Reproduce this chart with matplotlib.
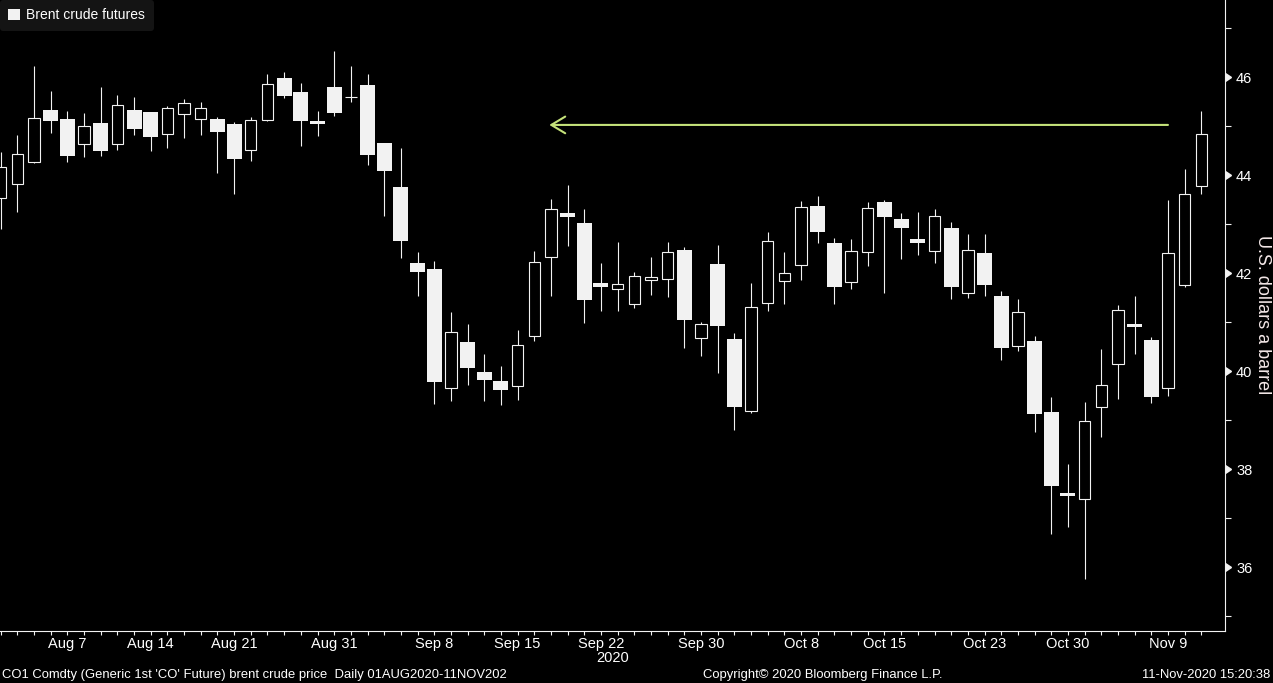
import numpy as np
import pandas as pd
import matplotlib.pyplot as plt
from matplotlib.patches import Rectangle, Patch

# daily brent candles, 3 Aug - 11 Nov 2020
dates = pd.bdate_range('2020-08-03', '2020-11-11')
opens = [43.53, 43.83, 44.28, 45.34, 45.15, 44.65, 45.07, 44.64, 45.34, 45.30,
         44.85, 45.26, 45.16, 45.15, 45.05, 44.51, 45.13, 45.99, 45.70, 45.11,
         45.81, 45.60, 45.85, 44.66, 43.77, 42.21, 42.09, 39.66, 40.60, 39.99,
         39.81, 39.71, 40.73, 42.33, 43.23, 43.03, 41.80, 41.68, 41.37, 41.86,
         41.88, 42.48, 40.68, 42.19, 40.66, 39.20, 41.40, 41.85, 42.17, 43.38,
         42.62, 41.82, 42.43, 43.46, 43.11, 42.70, 42.45, 42.93, 41.60, 42.42,
         41.54, 40.51, 40.62, 39.17, 37.51, 37.39, 39.27, 40.15, 40.97, 40.64,
         39.66, 41.76, 43.78]
highs = [44.48, 44.83, 46.23, 45.72, 45.32, 45.28, 45.81, 45.64, 45.60, 45.30,
         45.42, 45.56, 45.50, 45.19, 45.09, 45.19, 46.07, 46.11, 45.89, 45.32,
         46.54, 46.23, 46.07, 44.66, 44.55, 42.44, 42.26, 41.21, 40.97, 40.36,
         40.11, 40.85, 42.46, 43.52, 43.81, 43.32, 42.21, 42.64, 42.03, 42.34,
         42.64, 42.54, 41.00, 42.58, 40.79, 41.81, 42.85, 42.44, 43.48, 43.58,
         42.72, 42.70, 43.46, 43.50, 43.23, 43.26, 43.32, 43.05, 42.81, 42.81,
         41.64, 41.48, 40.72, 39.48, 38.11, 39.38, 40.46, 41.36, 41.54, 40.70,
         43.50, 44.13, 45.32]
lows = [42.91, 43.26, 44.26, 44.87, 44.28, 44.38, 44.40, 44.51, 44.83, 44.49,
        44.55, 44.77, 44.83, 44.04, 43.61, 44.30, 45.10, 45.57, 44.59, 44.81,
        45.22, 45.49, 44.22, 43.18, 42.32, 41.53, 39.34, 39.40, 39.73, 39.40,
        39.32, 39.42, 40.61, 41.53, 42.55, 40.98, 41.24, 41.24, 41.30, 41.55,
        41.51, 40.47, 40.32, 39.96, 38.81, 39.16, 41.24, 41.38, 41.87, 42.63,
        41.38, 41.69, 42.16, 41.59, 42.30, 42.38, 42.22, 41.47, 41.49, 41.53,
        40.24, 40.42, 38.77, 36.67, 36.83, 35.77, 38.67, 39.44, 40.36, 39.36,
        39.49, 41.73, 43.63]
closes = [44.17, 44.43, 45.17, 45.10, 44.40, 45.00, 44.50, 45.43, 44.95, 44.79,
          45.37, 45.47, 45.37, 44.89, 44.34, 45.13, 45.87, 45.63, 45.10, 45.06,
          45.28, 45.60, 44.42, 44.08, 42.67, 42.02, 39.79, 40.80, 40.06, 39.83,
          39.61, 40.53, 42.23, 43.31, 43.16, 41.45, 41.73, 41.78, 41.94, 41.92,
          42.43, 41.04, 40.96, 40.93, 39.28, 41.32, 42.66, 42.00, 43.35, 42.85,
          41.73, 42.45, 43.33, 43.16, 42.93, 42.63, 43.17, 41.73, 42.47, 41.77,
          40.47, 41.21, 39.12, 37.65, 37.46, 38.98, 39.72, 41.25, 40.94, 39.47,
          42.41, 43.62, 44.85]

label_dates = ['2020-08-07', '2020-08-14', '2020-08-21', '2020-08-31', '2020-09-08',
               '2020-09-15', '2020-09-22', '2020-09-30', '2020-10-08', '2020-10-15',
               '2020-10-23', '2020-10-30', '2020-11-09']
label_text = ['Aug 7', 'Aug 14', 'Aug 21', 'Aug 31', 'Sep 8', 'Sep 15', 'Sep 22',
              'Sep 30', 'Oct 8', 'Oct 15', 'Oct 23', 'Oct 30', 'Nov 9']
y_major = [36, 38, 40, 42, 44, 46]
y_minor = [35, 37, 39, 41, 43, 45, 47]

# arrow drawn on the chart: from Nov 9 back to mid September at ~45
arrow_level = 45.03
arrow_from = '2020-11-09'
arrow_to = '2020-09-17'

plt.rcParams['font.family'] = ['Liberation Sans', 'DejaVu Sans']
white = '#f2f2f2'

fig = plt.figure(figsize=(12.73, 6.83), dpi=100, facecolor='black')
ax = fig.add_axes([0, 52 / 683, 1225 / 1273, 631 / 683])
ax.set_facecolor('black')

x = np.arange(len(dates))
o = np.array(opens)
c = np.array(closes)

# wicks first, bodies on top
ax.vlines(x, lows, highs, color=white, lw=0.8, zorder=2)
for i in x:
    if c[i] >= o[i]:
        # up day: hollow, a bit narrower
        ax.add_patch(Rectangle((i - 0.34, o[i]), 0.68, c[i] - o[i],
                               facecolor='black', edgecolor=white, lw=0.8, zorder=3))
    else:
        h = max(o[i] - c[i], 0.06)
        ax.add_patch(Rectangle((i - 0.45, o[i] - h), 0.9, h,
                               facecolor=white, edgecolor='none', zorder=3))

# green arrow
xa = dates.get_loc(pd.Timestamp(arrow_from))
xb = dates.get_loc(pd.Timestamp(arrow_to)) - 0.1
ax.annotate('', xy=(xb, arrow_level), xytext=(xa, arrow_level),
            arrowprops=dict(arrowstyle='->,head_length=1.0,head_width=0.6',
                            color='#c5e27a', lw=1.5, shrinkA=0, shrinkB=0),
            zorder=4)

ax.set_xlim(-0.04, 73.42)
ax.set_ylim(34.70, 47.58)

for s in ['left', 'top']:
    ax.spines[s].set_visible(False)
for s in ['right', 'bottom']:
    ax.spines[s].set_color(white)
    ax.spines[s].set_linewidth(0.8)

# x axis: a tick for every day, labels on a few
ax.set_xticks(x, minor=True)
ax.set_xticks([dates.get_loc(pd.Timestamp(d)) for d in label_dates])
ax.set_xticklabels(label_text)
ax.tick_params(axis='x', which='both', direction='out', length=3, width=0.8,
               color=white, labelcolor='white', labelsize=10.5, pad=1)
ax.text(dates.get_loc(pd.Timestamp('2020-09-22')) + 0.7, -0.043, '2020',
        transform=ax.get_xaxis_transform(), ha='center', va='center',
        color='white', fontsize=10.5)

# y axis on the right with little triangles at the labelled values
ax.yaxis.tick_right()
ax.set_yticks(y_major)
ax.set_yticks(y_minor, minor=True)
ax.tick_params(axis='y', which='major', length=0, pad=8, labelcolor='white',
               labelsize=10.5)
ax.tick_params(axis='y', which='minor', direction='out', length=4, width=0.8,
               color=white)
ax.plot([1.0] * len(y_major), y_major, ls='none', marker=9, markersize=5.5,
        color=white, transform=ax.get_yaxis_transform(), clip_on=False)

fig.text(1263 / 1273, (683 - 315) / 683, 'U.S. dollars a barrel', rotation=-90,
         ha='center', va='center', color='#f4e8e8', fontsize=13)

leg = ax.legend(handles=[Patch(facecolor=white, edgecolor='none',
                               label='Brent crude futures')],
                loc='upper left', bbox_to_anchor=(0, 1), borderaxespad=0,
                facecolor='#141414', edgecolor='none', fancybox=True,
                framealpha=1, fontsize=10, labelcolor='white',
                handlelength=0.85, handleheight=0.85, handletextpad=0.45,
                borderpad=0.6)

# footer
fy = 8 / 683
fig.text(2 / 1273, fy, "CO1 Comdty (Generic 1st 'CO' Future) brent crude price  Daily 01AUG2020-11NOV202",
         color='white', fontsize=9.4, va='center', ha='left')
fig.text(823 / 1273, fy, 'Copyright\u00a9 2020 Bloomberg Finance L.P.',
         color='white', fontsize=9.4, va='center', ha='center')
fig.text(1270 / 1273, fy, '11-Nov-2020 15:20:38',
         color='white', fontsize=9.4, va='center', ha='right')

fig.savefig('out.png', dpi=100, facecolor='black')
